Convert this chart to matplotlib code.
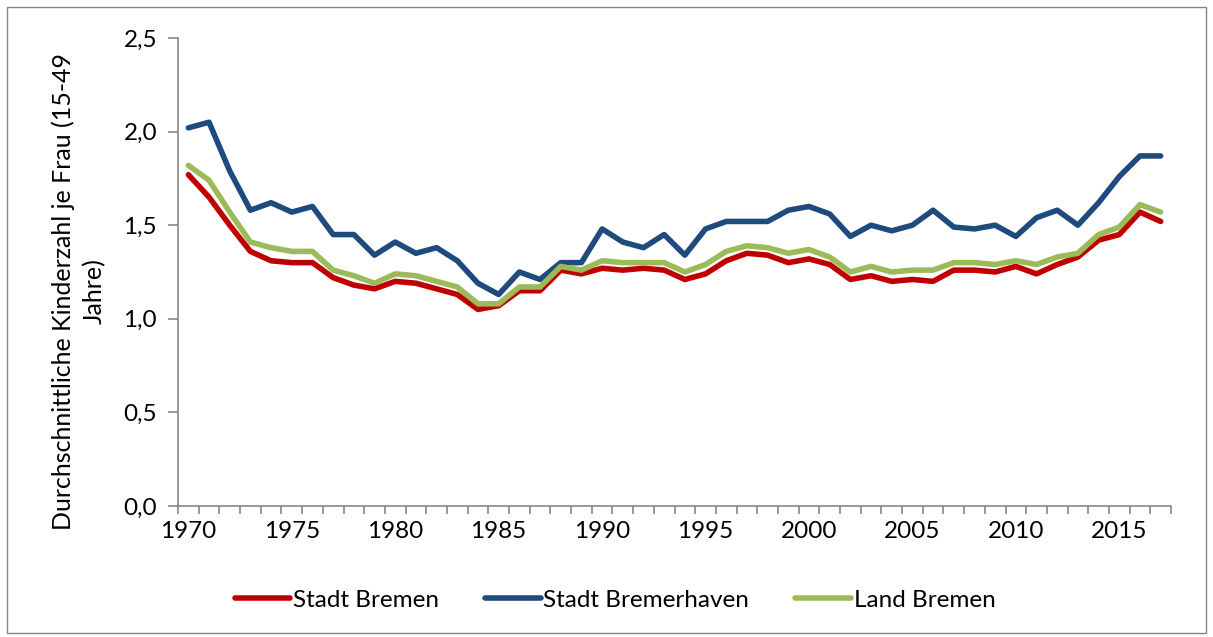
import numpy as np
import matplotlib.pyplot as plt
from matplotlib.patches import Rectangle

# Durchschnittliche Kinderzahl je Frau, 1970-2017
years = list(range(1970, 2018))

stadt_bremen = [1.77, 1.65, 1.50, 1.36, 1.31, 1.30, 1.30, 1.22, 1.18, 1.16,
                1.20, 1.19, 1.16, 1.13, 1.05, 1.07, 1.15, 1.15, 1.26, 1.24,
                1.27, 1.26, 1.27, 1.26, 1.21, 1.24, 1.31, 1.35, 1.34, 1.30,
                1.32, 1.29, 1.21, 1.23, 1.20, 1.21, 1.20, 1.26, 1.26, 1.25,
                1.28, 1.24, 1.29, 1.33, 1.42, 1.45, 1.57, 1.52]

stadt_bremerhaven = [2.02, 2.05, 1.79, 1.58, 1.62, 1.57, 1.60, 1.45, 1.45, 1.34,
                     1.41, 1.35, 1.38, 1.31, 1.19, 1.13, 1.25, 1.21, 1.30, 1.30,
                     1.48, 1.41, 1.38, 1.45, 1.34, 1.48, 1.52, 1.52, 1.52, 1.58,
                     1.60, 1.56, 1.44, 1.50, 1.47, 1.50, 1.58, 1.49, 1.48, 1.50,
                     1.44, 1.54, 1.58, 1.50, 1.62, 1.76, 1.87, 1.87]

land_bremen = [1.82, 1.74, 1.57, 1.41, 1.38, 1.36, 1.36, 1.26, 1.23, 1.19,
               1.24, 1.23, 1.20, 1.17, 1.08, 1.08, 1.17, 1.17, 1.28, 1.26,
               1.31, 1.30, 1.30, 1.30, 1.25, 1.29, 1.36, 1.39, 1.38, 1.35,
               1.37, 1.33, 1.25, 1.28, 1.25, 1.26, 1.26, 1.30, 1.30, 1.29,
               1.31, 1.29, 1.33, 1.35, 1.45, 1.49, 1.61, 1.57]

y_ticks = [0.0, 0.5, 1.0, 1.5, 2.0, 2.5]

plt.rcParams['font.family'] = ['Lato', 'DejaVu Sans']
fs = 17.5

fig = plt.figure(figsize=(12.13, 6.37), dpi=100)
ax = fig.add_axes([178/1213, 1-506/637, (1171-178)/1213, (506-38)/637])

# Rahmen um das ganze Diagramm
fig.patches.append(Rectangle((7/1213, 4/637), 1199/1213, 626/637,
                             transform=fig.transFigure, fill=False,
                             edgecolor='#868686', linewidth=1))

lw = 4.0
ax.plot(years, stadt_bremen, color='#C00000', lw=lw, label='Stadt Bremen',
        solid_capstyle='round', solid_joinstyle='round')
ax.plot(years, stadt_bremerhaven, color='#1F4A7E', lw=lw, label='Stadt Bremerhaven',
        solid_capstyle='round', solid_joinstyle='round')
ax.plot(years, land_bremen, color='#9BBB59', lw=lw, label='Land Bremen',
        solid_capstyle='round', solid_joinstyle='round')

ax.set_xlim(1969.5, 2017.5)
ax.set_ylim(0, 2.5)

# Achsen wie in Excel
for s in ['top', 'right']:
    ax.spines[s].set_visible(False)
for s in ['left', 'bottom']:
    ax.spines[s].set_color('#868686')
    ax.spines[s].set_linewidth(1.2)

ax.set_yticks(y_ticks)
ax.set_yticklabels([('%.1f' % v).replace('.', ',') for v in y_ticks])
ax.tick_params(axis='y', length=7, width=1.2, color='#868686', labelsize=fs, pad=8)

ax.set_xticks(list(range(1970, 2016, 5)))
ax.set_xticks(np.arange(1969.5, 2018, 1), minor=True)
ax.tick_params(axis='x', which='major', length=0, labelsize=fs, pad=11)
ax.tick_params(axis='x', which='minor', length=6, width=1.2, color='#868686')

fig.text(79/1213, 1-291/637, 'Durchschnittliche Kinderzahl je Frau (15-49\nJahre)',
         rotation=90, ha='center', va='center', multialignment='center',
         fontsize=18, linespacing=1.4)

fig.legend(loc='center', bbox_to_anchor=(615/1213, 1-600/637), ncol=3,
           frameon=False, fontsize=fs, handlelength=2.3, handletextpad=0.1,
           columnspacing=1.9)

plt.savefig('out.png', dpi=100)
